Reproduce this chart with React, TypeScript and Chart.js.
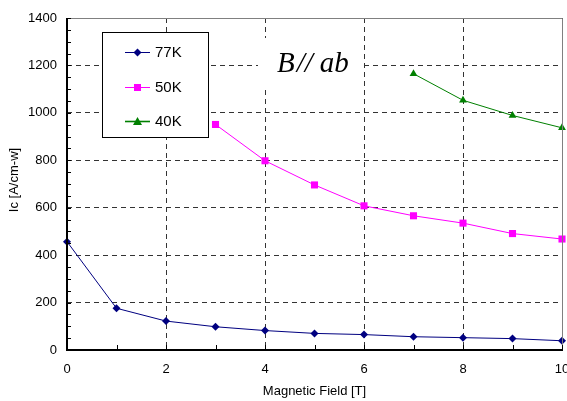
import React, { useEffect, useRef } from "react";
import { Chart, registerables } from "chart.js";

Chart.register(...registerables);

const fields = [0, 1, 2, 3, 4, 5, 6, 7, 8, 9, 10];
const ic77K = [457, 176, 122, 98, 82, 70, 65, 56, 52, 48, 39];
const ic50K = [null, null, null, 951, 798, 696, 608, 566, 535, 491, 468];
const ic40K = [null, null, null, null, null, null, null, 1165, 1053, 989, 937];
const seriesNames = ["77K", "50K", "40K"];
const seriesColors = ["#000080", "#FF00FF", "#008000"];
const xTitle = "Magnetic Field [T]";
const yTitle = "Ic [A/cm-w]";
const annotationParts = ["B", "//", "ab"];

const toPoints = (vals: (number | null)[]) =>
  fields
    .map((x, i) => ({ x, y: vals[i] }))
    .filter((p) => p.y !== null) as { x: number; y: number }[];

const SANS = "'Liberation Sans', Arial, sans-serif";

const decor = {
  id: "decor",
  beforeDraw(chart: any) {
    const ctx = chart.ctx;
    ctx.save();
    ctx.fillStyle = "#fff";
    ctx.fillRect(0, 0, chart.width, chart.height);
    ctx.restore();
  },
  afterDraw(chart: any) {
    const ctx = chart.ctx;
    const a = chart.chartArea;
    const xs = chart.scales.x;
    const ys = chart.scales.y;
    ctx.save();
    // frame top/right gray
    ctx.strokeStyle = "#808080";
    ctx.lineWidth = 1;
    ctx.beginPath();
    ctx.moveTo(Math.round(a.left) + 0.5, Math.round(a.top) + 0.5);
    ctx.lineTo(Math.round(a.right) + 0.5, Math.round(a.top) + 0.5);
    ctx.lineTo(Math.round(a.right) + 0.5, Math.round(a.bottom) + 0.5);
    ctx.stroke();
    // axes black
    ctx.strokeStyle = "#000";
    ctx.lineWidth = 2;
    ctx.beginPath();
    ctx.moveTo(Math.round(a.left), Math.round(a.top));
    ctx.lineTo(Math.round(a.left), Math.round(a.bottom));
    ctx.lineTo(Math.round(a.right) + 1, Math.round(a.bottom));
    ctx.stroke();
    // minor ticks
    ctx.lineWidth = 1;
    ctx.beginPath();
    for (let v = 0; v <= 1400; v += 50) {
      const y = Math.round(ys.getPixelForValue(v)) + 0.5;
      ctx.moveTo(a.left, y);
      ctx.lineTo(a.left + 4, y);
    }
    for (let v = 0; v <= 10; v += 1) {
      const x = Math.round(xs.getPixelForValue(v)) + 0.5;
      ctx.moveTo(x, a.bottom);
      ctx.lineTo(x, a.bottom - 5);
    }
    ctx.stroke();

    // axis titles
    ctx.fillStyle = "#000";
    ctx.font = "13px " + SANS;
    ctx.textAlign = "center";
    ctx.textBaseline = "middle";
    ctx.fillText(xTitle, (a.left + a.right) / 2, 391);
    ctx.save();
    ctx.translate(14, 180);
    ctx.rotate(-Math.PI / 2);
    ctx.fillText(yTitle, 0, 0);
    ctx.restore();

    // annotation box
    ctx.fillStyle = "#fff";
    ctx.fillRect(258, 38, 104, 50);
    ctx.fillStyle = "#000";
    ctx.font = "italic 29px 'Liberation Serif', 'Times New Roman', serif";
    ctx.textAlign = "left";
    ctx.textBaseline = "alphabetic";
    const base = 72;
    let px = 277;
    ctx.fillText(annotationParts[0], px, base);
    px += ctx.measureText(annotationParts[0]).width + 2;
    ctx.fillText(annotationParts[1], px, base);
    px += ctx.measureText(annotationParts[1]).width + 7;
    ctx.fillText(annotationParts[2], px, base);

    // legend box
    ctx.fillStyle = "#fff";
    ctx.fillRect(102, 32, 106, 105);
    ctx.strokeStyle = "#000";
    ctx.lineWidth = 1;
    ctx.strokeRect(102.5, 32.5, 106, 105);
    const rows = [52, 87, 121];
    chart.data.datasets.forEach((ds: any, i: number) => {
      const y = rows[i];
      ctx.strokeStyle = ds.borderColor;
      ctx.lineWidth = i === 2 ? 1.6 : 1;
      ctx.beginPath();
      ctx.moveTo(125, y + 0.5);
      ctx.lineTo(150, y + 0.5);
      ctx.stroke();
      ctx.fillStyle = ds.backgroundColor;
      const cx = 137.5;
      const cy = y + 0.5;
      ctx.beginPath();
      if (i === 0) {
        ctx.moveTo(cx, cy - 4);
        ctx.lineTo(cx + 4, cy);
        ctx.lineTo(cx, cy + 4);
        ctx.lineTo(cx - 4, cy);
      } else if (i === 1) {
        ctx.rect(cx - 3.5, cy - 3.5, 7, 7);
      } else {
        ctx.moveTo(cx, cy - 4.5);
        ctx.lineTo(cx + 4.5, cy + 3.5);
        ctx.lineTo(cx - 4.5, cy + 3.5);
      }
      ctx.closePath();
      ctx.fill();
      ctx.fillStyle = "#000";
      ctx.font = "15px " + SANS;
      ctx.textAlign = "left";
      ctx.textBaseline = "middle";
      ctx.fillText(ds.label, 155, y + 1);
    });
    ctx.restore();
  },
};

export default function App() {
  const ref = useRef<HTMLCanvasElement | null>(null);
  useEffect(() => {
    if (!ref.current) return;
    const makeDs = (i: number, vals: (number | null)[], style: string, r: number) => ({
      label: seriesNames[i],
      data: toPoints(vals),
      borderColor: seriesColors[i],
      backgroundColor: seriesColors[i],
      borderWidth: 1,
      pointStyle: style,
      pointRadius: r,
      pointBorderWidth: 0,
      pointBackgroundColor: seriesColors[i],
      tension: 0,
      clip: false,
    });
    const chart = new Chart(ref.current, {
      type: "line",
      data: {
        datasets: [
          makeDs(0, ic77K, "rectRot", 4),
          makeDs(1, ic50K, "rect", 5),
          makeDs(2, ic40K, "triangle", 4.5),
        ] as any,
      },
      options: {
        responsive: false,
        animation: false,
        devicePixelRatio: 1,
        layout: { padding: { top: 18, right: 4, left: 0, bottom: 0 } },
        plugins: { legend: { display: false }, tooltip: { enabled: false } },
        scales: {
          x: {
            type: "linear",
            min: 0,
            max: 10,
            afterFit: (s: any) => {
              s.height = 51;
              s.paddingLeft = 0;
              s.paddingRight = 0;
            },
            ticks: {
              stepSize: 2,
              color: "#000",
              font: { family: SANS, size: 13 },
              padding: 12,
              maxRotation: 0,
            },
            grid: { color: "#333", lineWidth: 1, drawTicks: false },
            border: { display: false, dash: [5, 4] },
          },
          y: {
            min: 0,
            max: 1400,
            afterFit: (s: any) => {
              s.width = 67;
              s.paddingTop = 0;
              s.paddingBottom = 0;
            },
            ticks: {
              stepSize: 200,
              color: "#000",
              font: { family: SANS, size: 13 },
              padding: 10,
              callback: (v: any) => String(v),
            },
            grid: { color: "#333", lineWidth: 1, drawTicks: false },
            border: { display: false, dash: [5, 4] },
          },
        },
      } as any,
      plugins: [decor],
    });
    return () => chart.destroy();
  }, []);
  return (
    <div style={{ position: "absolute", left: 0, top: 0, width: 567, height: 401, background: "#fff" }}>
      <canvas ref={ref} width={567} height={401} style={{ display: "block" }} />
    </div>
  );
}
